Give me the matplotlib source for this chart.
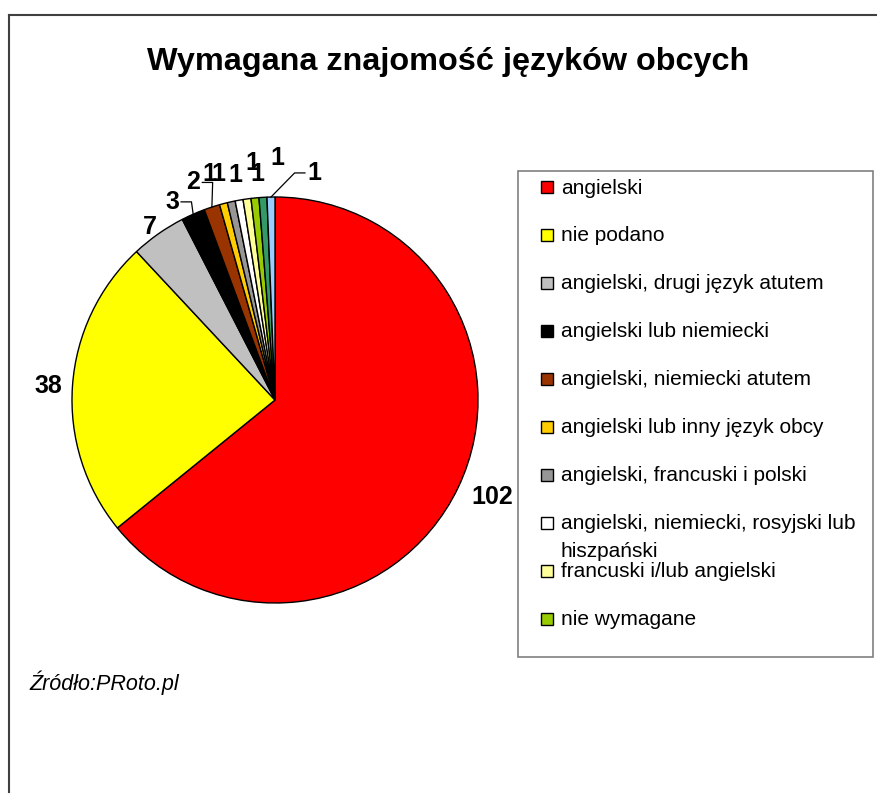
import numpy as np
import matplotlib
matplotlib.use('Agg')
import matplotlib.pyplot as plt
from matplotlib.patches import Rectangle
from matplotlib.lines import Line2D

plt.rcParams['font.family'] = ['Liberation Sans', 'DejaVu Sans']

# dane
categories = ['angielski', 'nie podano', 'angielski, drugi język atutem',
              'angielski lub niemiecki', 'angielski, niemiecki atutem',
              'angielski lub inny język obcy', 'angielski, francuski i polski',
              'angielski, niemiecki, rosyjski lub\nhiszpański',
              'francuski i/lub angielski', 'nie wymagane',
              'pozostałe (1)', 'pozostałe (2)']
values = [102, 38, 7, 3, 2, 1, 1, 1, 1, 1, 1, 1]
colors = ['#FF0000', '#FFFF00', '#C0C0C0', '#000000', '#993300', '#FFCC00',
          '#969696', '#FFFFFF', '#FFFF99', '#99CC00', '#339966', '#99CCFF']
n_legend = 10  # legenda w oryginale jest ucieta po 10 pozycjach

title = 'Wymagana znajomość języków obcych'
source = 'Źródło:PRoto.pl'

# przesuniecia etykiet (kat w stopniach, promien) - jak w Excelu
label_dang = [1.4, 0.5, 0.8, 3.7, 2.5, 1.5, 1.6, -0.3, -2.5, -1.2, -3.9, -10.9]
label_r = [1.17, 1.12, 1.05, 1.10, 1.145, 1.158, 1.146, 1.125, 1.175, 1.116, 1.192, 1.135]
leaders = {3: 1, 4: 1, 11: -1}  # indeks -> strona linii

W, H = 877, 801


def fx(x):
    return x / W


def fy(y):
    return 1 - y / H


fig = plt.figure(figsize=(W / 100, H / 100), dpi=100)

# ramka wykresu (widoczna tylko gora i lewa strona)
fig.add_artist(Line2D([fx(8.5), 1], [fy(15), fy(15)], color='#404040', lw=1.5))
fig.add_artist(Line2D([fx(8.5), fx(8.5)], [fy(15), fy(792)], color='#404040', lw=1.5))

fig.text(fx(448), fy(70), title, ha='center', va='baseline',
         fontsize=23.3, fontweight='bold')

# kolo
cx, cy, R = 275, 400, 203
lim = 1.25
half = lim * R
ax = fig.add_axes([fx(cx - half), fy(cy + half), 2 * half / W, 2 * half / H])
wedges, _ = ax.pie(values, colors=colors, startangle=90, counterclock=False,
                   wedgeprops=dict(edgecolor='black', linewidth=1))
ax.set_xlim(-lim, lim)
ax.set_ylim(-lim, lim)
ax.axis('off')

for i, w in enumerate(wedges):
    mid = np.deg2rad((w.theta1 + w.theta2) / 2)
    ang = mid + np.deg2rad(label_dang[i])
    lx, ly = label_r[i] * np.cos(ang), label_r[i] * np.sin(ang)
    ax.text(lx, ly, str(values[i]), ha='center', va='center',
            fontsize=18, fontweight='bold', clip_on=False)
    if i in leaders:
        s = leaders[i]
        ex, ey = np.cos(mid), np.sin(mid)
        ax.plot([ex, lx + s * 0.096, lx + s * 0.045], [ey, ly, ly],
                color='black', lw=0.9, clip_on=False)

# legenda
fig.add_artist(Rectangle((fx(518), fy(657)), fx(873) - fx(518), fy(171) - fy(657),
                         transform=fig.transFigure, fill=False,
                         edgecolor='#808080', lw=1.2))
row0, step, line_gap = 187, 47.95, 28
for k in range(n_legend):
    yc = row0 + step * k
    fig.add_artist(Rectangle((fx(540.5), fy(yc + 6)), 12 / W, 12 / H,
                             transform=fig.transFigure, facecolor=colors[k],
                             edgecolor='black', lw=1))
    for j, line in enumerate(categories[k].split('\n')):
        fig.text(fx(561), fy(yc + 6.5 + j * line_gap), line, ha='left',
                 va='baseline', fontsize=15)

fig.text(fx(29), fy(690), source, ha='left', va='baseline',
         fontsize=15.5, style='italic')

fig.savefig('out.png', dpi=100, facecolor='white')
